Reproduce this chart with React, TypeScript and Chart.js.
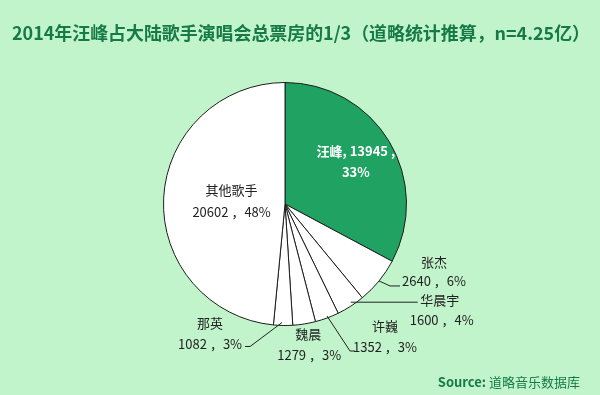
import React, { useEffect, useRef } from 'react';
import { Chart, registerables } from 'chart.js';

Chart.register(...registerables);

const singers = ['汪峰', '张杰', '华晨宇', '许巍', '魏晨', '那英', '其他歌手'];
const revenue = [13945, 2640, 1600, 1352, 1279, 1082, 20602];
const titleText = '2014年汪峰占大陆歌手演唱会总票房的1/3（道略统计推算，n=4.25亿）';
const sourcePrefix = 'Source:';
const sourceName = ' 道略音乐数据库';

const BG = '#c2f4cb';
const GREEN = '#20a263';
const TITLE_GREEN = '#167a48';
const TEXT = '#222222';
const CJK = '"Noto Sans CJK SC", "Noto Sans", sans-serif';

// label layout per slice (offsets from the slice's outer mid point)
type LabelLayout = {
  inside?: number; // fraction of radius for inside labels
  color?: string;
  bold?: boolean;
  name?: [number, number, CanvasTextAlign];
  value?: [number, number, CanvasTextAlign];
  leader?: [number, number][];
  sameLine?: boolean;
};

const layouts: LabelLayout[] = [
  { inside: 0.68, color: '#ffffff', bold: true, sameLine: true },
  { name: [55, -19, 'center'], value: [23, 0, 'left'], leader: [[0, 0], [11, 5], [21, 5]] },
  { name: [89, -6, 'center'], value: [59, 14, 'left'], leader: [[0, -4], [67, -4]] },
  { name: [58, 8, 'center'], value: [26, 29, 'left'], leader: [[0, -2], [23, 33], [28, 33]] },
  { name: [4, 10, 'center'], value: [5, 31, 'center'] },
  { name: [-73, -2, 'center'], value: [-41, 19, 'right'], leader: [[-1, -3], [-33, 21], [-38, 21]] },
  { inside: 0.44, color: TEXT },
];

const total = revenue.reduce((a, b) => a + b, 0);
const pct = (v: number) => Math.round((v / total) * 100) + '%';

const labelPlugin = {
  id: 'customLabels',
  beforeDraw(chart: any) {
    const ctx = chart.ctx;
    ctx.save();
    ctx.fillStyle = BG;
    ctx.fillRect(0, 0, chart.width, chart.height);
    ctx.restore();
  },
  afterDraw(chart: any) {
    const ctx: CanvasRenderingContext2D = chart.ctx;
    const meta = chart.getDatasetMeta(0);
    ctx.save();
    // title
    ctx.fillStyle = TITLE_GREEN;
    ctx.font = `bold 18px ${CJK}`;
    ctx.textAlign = 'left';
    ctx.textBaseline = 'middle';
    ctx.fillText(titleText, 12, 33, 578);

    // source
    ctx.font = `bold 13px ${CJK}`;
    const w1 = ctx.measureText(sourcePrefix).width;
    ctx.font = `13px ${CJK}`;
    const w2 = ctx.measureText(sourceName).width;
    const sx = 580 - w1 - w2;
    ctx.font = `bold 13px ${CJK}`;
    ctx.fillText(sourcePrefix, sx, 382);
    ctx.font = `13px ${CJK}`;
    ctx.fillText(sourceName, sx + w1, 382);

    meta.data.forEach((arc: any, i: number) => {
      const { x, y, startAngle, endAngle, outerRadius } = arc.getProps(
        ['x', 'y', 'startAngle', 'endAngle', 'outerRadius'],
        true
      );
      const mid = (startAngle + endAngle) / 2;
      const lay = layouts[i];
      const valueText = `${revenue[i]} ，${pct(revenue[i])}`;
      if (lay.inside !== undefined) {
        const lx = x + Math.cos(mid) * outerRadius * lay.inside;
        const ly = y + Math.sin(mid) * outerRadius * lay.inside;
        ctx.fillStyle = lay.color || TEXT;
        ctx.font = `${lay.bold ? 'bold ' : ''}13px ${CJK}`;
        ctx.textAlign = 'center';
        if (lay.sameLine) {
          ctx.fillText(`${singers[i]}, ${revenue[i]} ,`, lx, ly - 10);
          ctx.fillText(pct(revenue[i]), lx, ly + 11);
        } else {
          ctx.fillText(singers[i], lx, ly - 11);
          ctx.fillText(valueText, lx, ly + 11);
        }
        return;
      }
      const px = x + Math.cos(mid) * outerRadius;
      const py = y + Math.sin(mid) * outerRadius;
      if (lay.leader) {
        ctx.strokeStyle = TEXT;
        ctx.lineWidth = 1;
        ctx.beginPath();
        lay.leader.forEach(([dx, dy], k) => {
          if (k === 0) ctx.moveTo(px + dx, py + dy);
          else ctx.lineTo(px + dx, py + dy);
        });
        ctx.stroke();
      }
      ctx.fillStyle = TEXT;
      ctx.font = `13px ${CJK}`;
      if (lay.name) {
        ctx.textAlign = lay.name[2];
        ctx.fillText(singers[i], px + lay.name[0], py + lay.name[1]);
      }
      if (lay.value) {
        ctx.textAlign = lay.value[2];
        ctx.fillText(valueText, px + lay.value[0], py + lay.value[1]);
      }
    });
    ctx.restore();
  },
};

export default function App() {
  const ref = useRef<HTMLCanvasElement>(null);
  useEffect(() => {
    document.body.style.margin = '0';
    if (!ref.current) return;
    const chart = new Chart(ref.current, {
      type: 'pie',
      data: {
        labels: singers,
        datasets: [
          {
            data: revenue,
            backgroundColor: singers.map((_, i) => (i === 0 ? GREEN : '#ffffff')),
            borderColor: '#1e1e1e',
            borderWidth: 1,
          },
        ],
      },
      options: {
        animation: false,
        responsive: false,
        devicePixelRatio: 1,
        layout: { padding: { left: 163, right: 193, top: 82, bottom: 69 } },
        plugins: {
          legend: { display: false },
          title: { display: false },
          tooltip: { enabled: false },
        },
      },
      plugins: [labelPlugin],
    });
    return () => chart.destroy();
  }, []);
  return <canvas ref={ref} width={600} height={395} style={{ display: 'block', width: 600, height: 395 }} />;
}
